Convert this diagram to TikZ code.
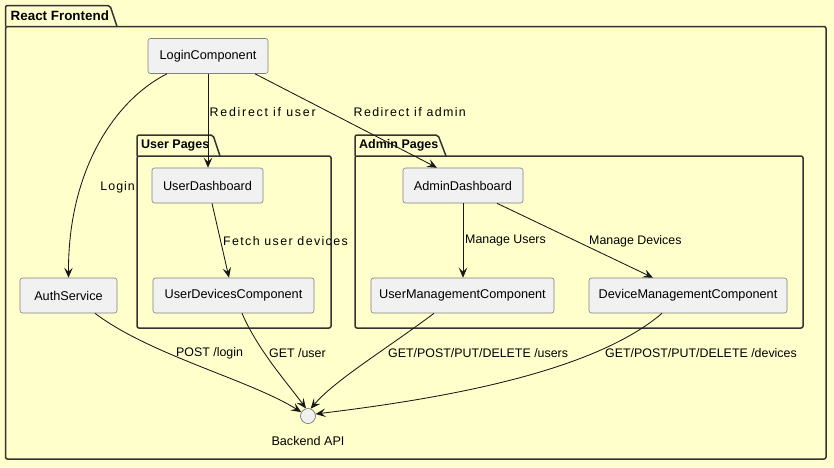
\documentclass[tikz,border=0pt]{standalone}
\usepackage{fontspec}
\setmainfont{Liberation Sans}
\newfontfamily\spacedfont[LetterSpace=8]{Liberation Sans}
\newfontfamily\spacedfontb[LetterSpace=14]{Liberation Sans}
\newfontfamily\spacedfontc[LetterSpace=11]{Liberation Sans}
\usetikzlibrary{arrows.meta}
\definecolor{bgc}{HTML}{FFFFCC}
\definecolor{boxc}{HTML}{F1F1F1}
\definecolor{linec}{HTML}{181818}
\definecolor{pkgc}{HTML}{333333}
\tikzset{
  comp/.style={draw=black!50, fill=boxc, line width=0.6pt, rounded corners=2.5pt,
    minimum height=35pt, inner sep=0pt, font=\fontsize{12.7}{14}\selectfont},
  pkg/.style={draw=pkgc, line width=1.5pt, rounded corners=2pt},
  pkgtitle/.style={anchor=west, inner sep=0pt, font=\fontsize{12.5}{14}\selectfont\bfseries},
  edge/.style={draw=linec, line width=0.85pt, -{Stealth[length=10pt,width=8.5pt,inset=4pt]}},
  lbl/.style={inner sep=0pt, font=\fontsize{12.4}{14}\selectfont},
  slbl/.style={inner sep=0pt, font=\fontsize{12.4}{14}\spacedfont},
}
\begin{document}
\begin{tikzpicture}[x=1pt,y=-1pt]
\fill[bgc] (0,0) rectangle (834,467);
\useasboundingbox (0,0) rectangle (834,467);

% packages
\draw[pkg] (5.5,26.5) rectangle (826,459);
\draw[pkg] (5.5,26.5) -- (5.5,5.5) -- (110,5.5) -- (117,26.5);
\node[pkgtitle, font=\fontsize{13.4}{15}\selectfont\bfseries] (tfront) at (10.5,16) {React Frontend};

\draw[pkg] (137,156) rectangle (331,328);
\draw[pkg] (137,156) -- (137,135) -- (213,135) -- (220,156);
\node[pkgtitle] (tuser) at (141,145.5) {User Pages};

\draw[pkg] (355,156) rectangle (803,328);
\draw[pkg] (355,156) -- (355,135) -- (438,135) -- (446,156);
\node[pkgtitle] (tadmin) at (359,145.5) {Admin Pages};

% components
\node[comp, minimum width=120pt] (login) at (208,56) {LoginComponent};
\node[comp, minimum width=111pt] (udash) at (207.5,185.5) {UserDashboard};
\node[comp, minimum width=161pt] (udev) at (233.5,295.5) {UserDevicesComponent};
\node[comp, minimum width=120pt] (adash) at (463,185.5) {AdminDashboard};
\node[comp, minimum width=183pt] (umgmt) at (462.5,295.5) {UserManagementComponent};
\node[comp, minimum width=198pt] (dmgmt) at (688,295.5) {DeviceManagementComponent};
\node[comp, minimum width=97pt] (auth) at (68.5,295.5) {AuthService};
\node[circle, draw=black!60, fill=boxc, line width=0.6pt, minimum size=15pt, inner sep=0pt] (api) at (308,416) {};
\node[lbl, font=\fontsize{12.6}{14}\selectfont] (apil) at (308,441) {Backend API};

% edges
\draw[edge] ([xshift=-41pt]login.south) .. controls (115,100) and (68,170) .. (auth.north);
\draw[edge] (login.south) -- (login.south |- udash.north);
\draw[edge] ([xshift=47pt]login.south) -- ([xshift=-26pt]adash.north);
\draw[edge] ([xshift=4.5pt]udash.south) -- ([xshift=-4.5pt]udev.north);
\draw[edge] (adash.south) -- (adash.south |- umgmt.north);
\draw[edge] ([xshift=34pt]adash.south) -- ([xshift=-35pt]dmgmt.north);
\draw[edge] ([xshift=26.5pt]auth.south) .. controls (150,355) and (250,380) .. (api.150);
\draw[edge] ([xshift=8.5pt]udev.south) .. controls (258,350) and (285,380) .. (api.105);
\draw[edge] ([xshift=-28.5pt]umgmt.south) .. controls (385,350) and (335,380) .. (api.70);
\draw[edge] ([xshift=-26pt]dmgmt.south) .. controls (590,375) and (430,400) .. (api.15);

% labels
\node[slbl, anchor=east] (l1) at (135,187) {Login};
\node[slbl, anchor=west, font=\fontsize{12.4}{14}\spacedfontb] (l2) at (209.5,112) {Redirect if user};
\node[slbl, anchor=west, font=\fontsize{12.4}{14}\spacedfontc] (l3) at (353.5,112) {Redirect if admin};
\node[slbl, anchor=west, font=\fontsize{12.4}{14}\spacedfontc] (l4) at (223,241) {Fetch user devices};
\node[lbl, anchor=west] (l5) at (465,241) {Manage Users};
\node[lbl, anchor=west] (l6) at (589,241) {Manage Devices};
\node[lbl, anchor=west] (l7) at (176,353) {POST /login};
\node[lbl, anchor=west] (l8) at (269,353) {GET /user};
\node[lbl, anchor=west] (l9) at (388,353) {GET/POST/PUT/DELETE /users};
\node[lbl, anchor=west] (l10) at (605,353) {GET/POST/PUT/DELETE /devices};
\end{tikzpicture}
\end{document}
